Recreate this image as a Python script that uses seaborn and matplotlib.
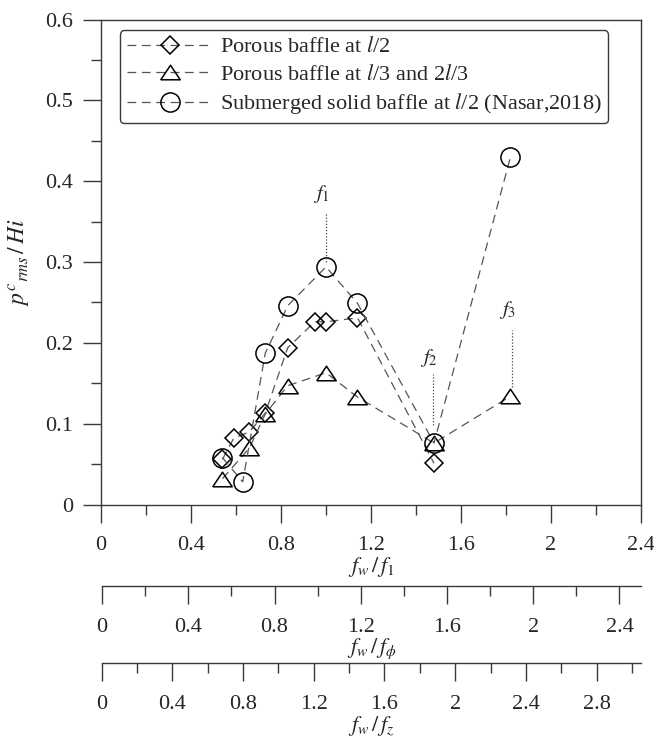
import matplotlib
matplotlib.use("Agg")
import matplotlib.pyplot as plt
import seaborn as sns
import numpy as np
from matplotlib.ticker import MultipleLocator, FuncFormatter

# Normalised wave frequency f_w/f_1 and normalised RMS pressure for each configuration
freq_porous_mid = [0.54, 0.59, 0.66, 0.73, 0.83, 0.95, 1.00, 1.14, 1.48]
prms_porous_mid = [0.056, 0.082, 0.090, 0.113, 0.194, 0.226, 0.226, 0.231, 0.051]

freq_porous_third = [0.54, 0.66, 0.73, 0.83, 1.00, 1.14, 1.48, 1.82]
prms_porous_third = [0.032, 0.070, 0.112, 0.147, 0.163, 0.133, 0.076, 0.134]

freq_solid_mid = [0.54, 0.63, 0.73, 0.83, 1.00, 1.14, 1.48, 1.82]
prms_solid_mid = [0.058, 0.028, 0.187, 0.246, 0.294, 0.249, 0.076, 0.430]

series_labels = [
    r"Porous baffle at $l$/2",
    r"Porous baffle at $l$/3 and 2$l$/3",
    r"Submerged solid baffle at $l$/2 (Nasar,2018)",
]

# Resonance frequency annotations: label, x, label y, dotted line span
resonance_labels = [r"$f_1$", r"$f_2$", r"$f_3$"]
resonance_x = [1.00, 1.477, 1.825]
resonance_label_y = [0.384, 0.181, 0.241]
resonance_line_top = [0.361, 0.162, 0.216]
resonance_line_bottom = [0.300, 0.098, 0.146]

main_ticks = [0, 0.4, 0.8, 1.2, 1.6, 2.0, 2.4]
phi_ticks = [0, 0.4, 0.8, 1.2, 1.6, 2.0, 2.4]
z_ticks = [0, 0.4, 0.8, 1.2, 1.6, 2.0, 2.4, 2.8]
y_ticks = [0, 0.1, 0.2, 0.3, 0.4, 0.5, 0.6]

sns.set_style("ticks")
plt.rcParams["font.family"] = ["Liberation Serif", "DejaVu Serif"]
plt.rcParams["mathtext.fontset"] = "stix"

AX_COLOR = "#3a3a3a"
LINE_COLOR = "#555555"
FS = 16

fig = plt.figure(figsize=(6.54, 7.40), dpi=100)
ax = fig.add_axes([0.1544, 0.3182, 0.8257, 0.6554])

tri = [(-1, -0.75), (1, -0.75), (0, 0.75), (-1, -0.75)]
styles = [
    (freq_porous_mid, prms_porous_mid, "D", 9.2),
    (freq_porous_third, prms_porous_third, tri, 14),
    (freq_solid_mid, prms_solid_mid, "o", 13.8),
]
for (xs, ys, mk, ms), lab in zip(styles, series_labels):
    sns.lineplot(
        x=xs, y=ys, ax=ax, sort=False, errorbar=None,
        color=LINE_COLOR, linewidth=0.9, linestyle=(0, (7, 4.5)),
        marker=mk, markersize=ms, markerfacecolor="none",
        markeredgecolor="black", markeredgewidth=1.1, label=lab,
    )

for lab, x, ly, top, bot in zip(resonance_labels, resonance_x, resonance_label_y,
                                resonance_line_top, resonance_line_bottom):
    ax.vlines(x, bot, top, colors="#444444", linestyles=(0, (1, 1.5)), linewidth=0.9)
    ax.text(x - 0.02, ly, lab, ha="center", va="center", fontsize=15)

ax.set_xlim(0, 2.4)
ax.set_ylim(0, 0.6)
fmt = FuncFormatter(lambda v, p: f"{v:g}")
ax.set_xticks(main_ticks)
ax.set_yticks(y_ticks)
ax.xaxis.set_major_formatter(fmt)
ax.yaxis.set_major_formatter(fmt)
ax.xaxis.set_minor_locator(MultipleLocator(0.2))
ax.yaxis.set_minor_locator(MultipleLocator(0.05))
ax.tick_params(axis="both", which="major", direction="out", length=13, width=1.0,
               color=AX_COLOR, labelsize=FS)
ax.tick_params(axis="both", which="minor", direction="out", length=7, width=1.0,
               color=AX_COLOR)
ax.tick_params(axis="x", which="major", pad=10)
ax.tick_params(axis="y", which="major", pad=7)
for sp in ax.spines.values():
    sp.set_visible(True)
    sp.set_color(AX_COLOR)
    sp.set_linewidth(1.0)

ax.set_xlabel(r"$f_w\,/\,f_1$", fontsize=FS, labelpad=0)
ax.set_ylabel(r"$p^{c}{}_{rms}\,/\,Hi$", fontsize=17, labelpad=9)

handles, labels = ax.get_legend_handles_labels()
leg = ax.legend(handles, labels, loc="upper left", bbox_to_anchor=(0.035, 0.978),
                fontsize=16, handlelength=3.9, handletextpad=0.3,
                labelspacing=0.3, borderpad=0.3, borderaxespad=0.0,
                frameon=True, fancybox=True, framealpha=1.0)
leg.get_frame().set_edgecolor(AX_COLOR)
leg.get_frame().set_linewidth(1.0)


def add_scale(bottom, left, width, xmax, ticks, label):
    sub = fig.add_axes([left, bottom, width, 0.0001])
    sub.set_facecolor("none")
    for name, sp in sub.spines.items():
        sp.set_visible(name == "top")
        sp.set_color(AX_COLOR)
        sp.set_linewidth(1.0)
    sub.set_yticks([])
    sub.set_xlim(0, xmax)
    sub.set_xticks(ticks)
    sub.xaxis.set_major_formatter(fmt)
    sub.xaxis.set_minor_locator(MultipleLocator(0.2))
    sub.tick_params(axis="x", which="major", direction="out", length=13, width=1.0,
                    color=AX_COLOR, labelsize=FS, pad=10)
    sub.tick_params(axis="x", which="minor", direction="out", length=7, width=1.0,
                    color=AX_COLOR)
    sub.set_xlabel(label, fontsize=FS, labelpad=0)
    return sub


add_scale(0.2081, 0.1560, 0.8242, 2.5, phi_ticks, r"$f_w\,/\,f_\phi$")
add_scale(0.1041, 0.1555, 0.8242, 3.05, z_ticks, r"$f_w\,/\,f_z$")

fig.savefig("out.png", dpi=100, facecolor="white")
